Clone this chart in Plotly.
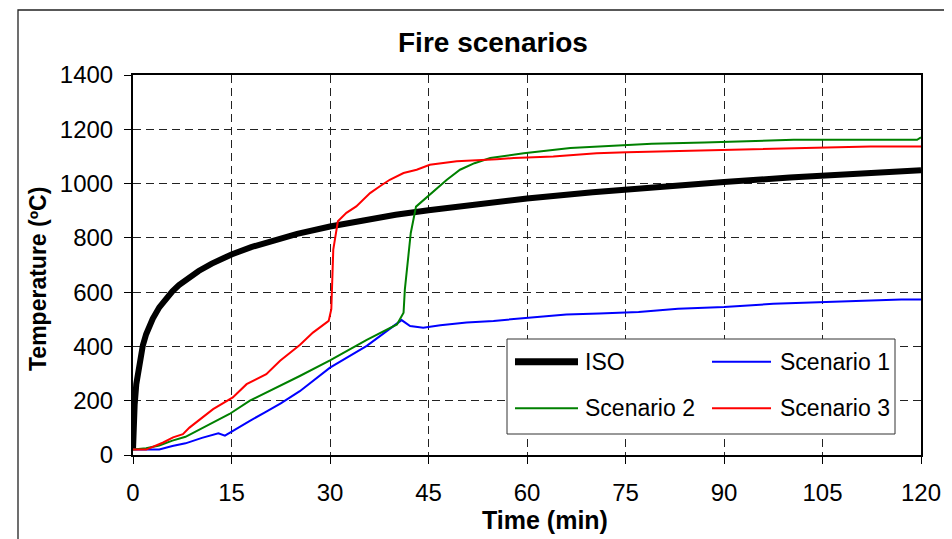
import plotly.graph_objects as go

# ---------------- data ----------------
series_names = ["ISO", "Scenario 1", "Scenario 2", "Scenario 3"]

time_iso = [0, 0.1, 0.25, 0.5, 1, 1.5, 2, 3, 4, 5, 6, 7, 8, 10, 12, 15, 18, 20, 25, 30,
            35, 40, 45, 50, 55, 60, 70, 80, 90, 100, 110, 120]
temp_iso = [20, 120, 185, 261, 349, 404, 445, 502, 544, 576, 603, 626, 645, 678, 705, 739,
            766, 781, 815, 842, 865, 885, 902, 918, 932, 945, 968, 988, 1006, 1022, 1036, 1049]

time_s1 = [0, 2, 4, 6, 8, 10.5, 13, 14, 15.8, 17.8, 20.1, 22.5, 25.4, 30, 35.6, 40.9, 42.2,
           44.2, 46.8, 50.8, 54.9, 60, 66, 71, 77, 83, 90, 97.5, 106.7, 117, 120]
temp_s1 = [20, 20, 20, 33, 43, 63, 80, 71, 98, 126, 157, 190, 235, 322, 402, 497, 475,
           469, 478, 488, 494, 506, 518, 521, 527, 539, 545, 557, 565, 573, 573]

time_s2 = [0, 2, 4, 6, 8, 11, 14.7, 17.8, 19.8, 22.5, 25.4, 30, 35.6, 40.2, 41.2, 41.4,
           42.3, 43.1, 45.2, 47.8, 49.8, 52, 54.4, 59.5, 66.6, 75, 79, 87, 100.6, 119.4, 120]
temp_s2 = [20, 25, 35, 53, 67, 105, 151, 200, 224, 255, 291, 349, 424, 481, 524, 610,
           818, 915, 959, 1014, 1051, 1075, 1094, 1112, 1131, 1140, 1147, 1151, 1161, 1161, 1170]

time_s3 = [0, 2, 4.6, 6.1, 7.6, 8.6, 12.2, 15.2, 17.3, 20.3, 22.4, 25.4, 27.4, 29.8, 30.2,
           30.5, 31.2, 32.5, 34, 36.1, 37.6, 39.1, 41.2, 43.2, 45.2, 49.3, 55.4, 58, 64,
           70.6, 75.2, 81, 94, 112.3, 120]
temp_s3 = [20, 20, 46, 65, 77, 101, 169, 212, 261, 298, 347, 405, 451, 494, 537,
           757, 861, 892, 916, 965, 990, 1014, 1039, 1051, 1069, 1082, 1090, 1094, 1100,
           1112, 1115, 1118, 1127, 1137, 1137]

x_ticks = [0, 15, 30, 45, 60, 75, 90, 105, 120]
y_ticks = [0, 200, 400, 600, 800, 1000, 1200, 1400]

title_text = "Fire scenarios"
x_title = "Time (min)"
y_title = "Temperature (ºC)"

# ---------------- styling ----------------
OFF = 8  # page body margin of the html page
W, H = 952 - OFF, 539 - OFF
PL, PR, PT, PB = 133, 921, 75, 455  # plot area in page pixels
ML, MR, MT, MB = PL - OFF, W - (PR - OFF), PT - OFF, H - (PB - OFF)
PW, PH = W - ML - MR, H - MT - MB
FONT = "Arial, 'Liberation Sans', sans-serif"

def px(xpage):
    return (xpage - OFF - ML) / PW

def py(ypage):
    return (H - MB - (ypage - OFF)) / PH

colors = ["#000000", "#0000FF", "#008000", "#FF0000"]
widths = [6, 2, 2, 2]
xs = [time_iso, time_s1, time_s2, time_s3]
ys = [temp_iso, temp_s1, temp_s2, temp_s3]

fig = go.Figure()
for i in range(4):
    fig.add_trace(go.Scatter(x=xs[i], y=ys[i], mode="lines", name=series_names[i],
                             line=dict(color=colors[i], width=widths[i]),
                             showlegend=False))

axis_common = dict(showline=True, mirror=True, linecolor="black", linewidth=2,
                   showgrid=True, gridcolor="#222222", gridwidth=1, griddash="8px,5px",
                   ticks="outside", ticklen=7, tickcolor="black", tickwidth=1,
                   tickfont=dict(family=FONT, size=24, color="black"), zeroline=False)

fig.update_xaxes(range=[0, 120], tickvals=x_ticks, ticklabelstandoff=8, **axis_common)
fig.update_yaxes(range=[0, 1400], tickvals=y_ticks, ticklabelstandoff=6, **axis_common)

shapes = []
# outer chart frame
shapes.append(dict(type="rect", xref="paper", yref="paper",
                   x0=px(18), x1=px(975), y0=py(560), y1=py(10),
                   line=dict(color="#222222", width=1.3), fillcolor="rgba(0,0,0,0)", layer="below"))
# legend box
shapes.append(dict(type="rect", xref="paper", yref="paper",
                   x0=px(507), x1=px(895), y0=py(434), y1=py(339),
                   line=dict(color="#333333", width=1), fillcolor="white", layer="above"))

legend_pos = [(515, 578, 583, 361.7), (712, 771, 778, 361.7),
              (515, 578, 583, 408.3), (712, 771, 778, 408.3)]
annotations = []
for i, (lx0, lx1, tx, ly) in enumerate(legend_pos):
    shapes.append(dict(type="line", xref="paper", yref="paper",
                       x0=px(lx0), x1=px(lx1), y0=py(ly), y1=py(ly),
                       line=dict(color=colors[i], width=widths[i] + (1 if i == 0 else 0)),
                       layer="above"))
    annotations.append(dict(text=series_names[i], xref="paper", yref="paper",
                            x=px(tx), y=py(ly), xanchor="left", yanchor="middle",
                            showarrow=False, font=dict(family=FONT, size=23, color="black")))

annotations.append(dict(text="<b>" + title_text + "</b>", xref="paper", yref="paper",
                        x=px(493), y=py(43), xanchor="center", yanchor="middle",
                        showarrow=False, font=dict(family=FONT, size=28, color="black")))
annotations.append(dict(text="<b>" + x_title + "</b>", xref="paper", yref="paper",
                        x=px(545), y=py(520), xanchor="center", yanchor="middle",
                        showarrow=False, font=dict(family=FONT, size=25, color="black")))
annotations.append(dict(text="<b>" + y_title + "</b>", xref="paper", yref="paper",
                        x=px(38), y=py(279), xanchor="center", yanchor="middle", textangle=-90,
                        showarrow=False, font=dict(family=FONT, size=23, color="black")))

fig.update_layout(width=W, height=H, margin=dict(l=ML, r=MR, t=MT, b=MB, autoexpand=False),
                  paper_bgcolor="white", plot_bgcolor="white",
                  shapes=shapes, annotations=annotations, showlegend=False)

fig.write_html("out.html")
